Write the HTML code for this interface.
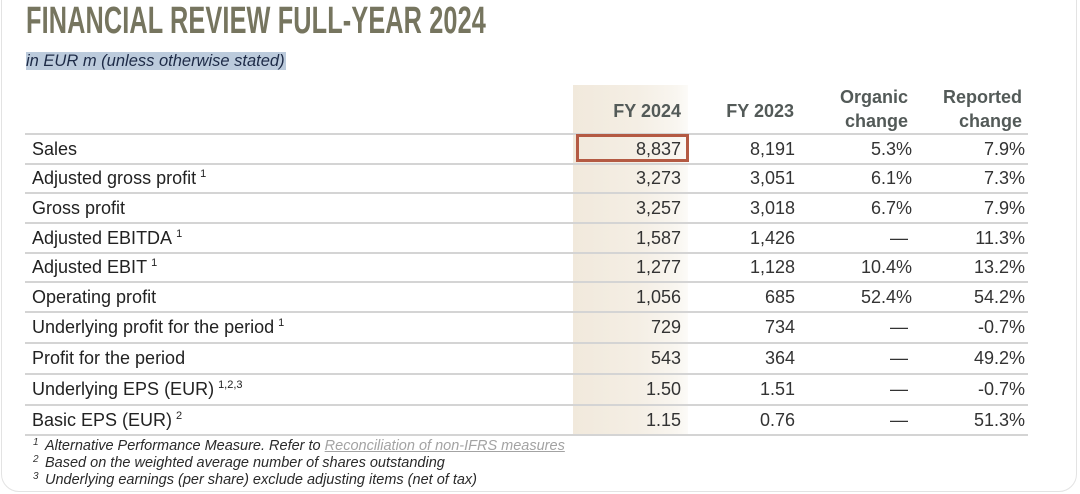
<!DOCTYPE html>
<html>
<head>
<meta charset="utf-8">
<style>
  html, body { margin:0; padding:0; }
  body { width:1080px; height:494px; position:relative; overflow:hidden; background:#fff;
         font-family:"Liberation Sans", Arial, sans-serif; }
  .abs { position:absolute; }
  .card { left:1px; top:-30px; width:1074px; height:520px; border:1.5px solid #e3e3e3; border-radius:18px; }
  .title { left:26px; top:2px; font-size:38px; line-height:38px; font-weight:bold; color:#76755f;
           transform:scaleX(0.665); transform-origin:0 0; white-space:nowrap; letter-spacing:0.2px; }
  .sub { left:26px; top:52px; height:18px; line-height:18px; font-size:16.5px; font-style:italic;
         color:#1e2b47; background:#bccbdc; white-space:nowrap; padding-right:1px; }
  .shade { left:573px; top:85px; width:115px; height:350px;
           background:linear-gradient(to right,#f1e9dc 0%,#f4eee4 55%,#f9f6f0 90%,#fcfbf8 100%); }
  .hdr { font-weight:bold; font-size:18px; color:#535a58; white-space:nowrap; text-align:right; line-height:24px; }
  .line { left:25px; width:1003px; height:1.6px; background:#d4d4d4; }
  .row { left:0; width:1080px; font-size:18px; }
  .row div { position:absolute; top:0; white-space:nowrap; }
  .lbl { left:32px; color:#222; }
  .c1 { right:399px; color:#333; text-align:right; }
  .c2 { right:285px; color:#333; text-align:right; }
  .c3 { right:168px; color:#333; text-align:right; }
  .c3d { right:172px; color:#333; text-align:right; }
  .c4 { right:55px; color:#333; text-align:right; }
  sup.s { font-size:11px; vertical-align:0; position:relative; top:-7px; margin-left:4px; line-height:0; }
  .box { left:576px; top:134px; width:107px; height:22px; border:3px solid #b45a43; }
  .fn { left:33px; font-size:14.5px; font-style:italic; color:#2a2a2a; white-space:nowrap; line-height:17px; }
  .fn .n { display:inline-block; width:12px; font-size:10px; position:relative; top:-5px; color:#333; }
  .lnk { color:#a3a3a3; text-decoration:underline; }
</style>
</head>
<body>
<div class="abs card"></div>

<div class="abs title">FINANCIAL REVIEW FULL-YEAR 2024</div>
<div class="abs sub">in EUR m (unless otherwise stated)</div>

<div class="abs shade"></div>

<div class="abs hdr" style="right:399px; top:99px;">FY 2024</div>
<div class="abs hdr" style="right:286px; top:99px;">FY 2023</div>
<div class="abs hdr" style="right:172px; top:85px;">Organic<br>change</div>
<div class="abs hdr" style="right:58px; top:85px;">Reported<br>change</div>

<div class="abs line" style="top:133px;"></div>
<div class="abs line" style="top:163px;"></div>
<div class="abs line" style="top:192px;"></div>
<div class="abs line" style="top:222px;"></div>
<div class="abs line" style="top:252px;"></div>
<div class="abs line" style="top:281px;"></div>
<div class="abs line" style="top:311px;"></div>
<div class="abs line" style="top:342px;"></div>
<div class="abs line" style="top:373px;"></div>
<div class="abs line" style="top:404px;"></div>
<div class="abs line" style="top:434px;"></div>

<div class="abs row" style="top:134px; height:30px; line-height:30px;">
  <div class="lbl">Sales</div><div class="c1">8,837</div><div class="c2">8,191</div><div class="c3">5.3%</div><div class="c4">7.9%</div>
</div>
<div class="abs row" style="top:164px; height:29px; line-height:29px;">
  <div class="lbl">Adjusted gross profit<sup class="s">1</sup></div><div class="c1">3,273</div><div class="c2">3,051</div><div class="c3">6.1%</div><div class="c4">7.3%</div>
</div>
<div class="abs row" style="top:193px; height:30px; line-height:30px;">
  <div class="lbl">Gross profit</div><div class="c1">3,257</div><div class="c2">3,018</div><div class="c3">6.7%</div><div class="c4">7.9%</div>
</div>
<div class="abs row" style="top:223px; height:30px; line-height:30px;">
  <div class="lbl">Adjusted EBITDA<sup class="s">1</sup></div><div class="c1">1,587</div><div class="c2">1,426</div><div class="c3d">—</div><div class="c4">11.3%</div>
</div>
<div class="abs row" style="top:253px; height:29px; line-height:29px;">
  <div class="lbl">Adjusted EBIT<sup class="s">1</sup></div><div class="c1">1,277</div><div class="c2">1,128</div><div class="c3">10.4%</div><div class="c4">13.2%</div>
</div>
<div class="abs row" style="top:282px; height:30px; line-height:30px;">
  <div class="lbl">Operating profit</div><div class="c1">1,056</div><div class="c2">685</div><div class="c3">52.4%</div><div class="c4">54.2%</div>
</div>
<div class="abs row" style="top:312px; height:31px; line-height:31px;">
  <div class="lbl">Underlying profit for the period<sup class="s">1</sup></div><div class="c1">729</div><div class="c2">734</div><div class="c3d">—</div><div class="c4">-0.7%</div>
</div>
<div class="abs row" style="top:343px; height:31px; line-height:31px;">
  <div class="lbl">Profit for the period</div><div class="c1">543</div><div class="c2">364</div><div class="c3d">—</div><div class="c4">49.2%</div>
</div>
<div class="abs row" style="top:374px; height:31px; line-height:31px;">
  <div class="lbl">Underlying EPS (EUR)<sup class="s">1,2,3</sup></div><div class="c1">1.50</div><div class="c2">1.51</div><div class="c3d">—</div><div class="c4">-0.7%</div>
</div>
<div class="abs row" style="top:405px; height:30px; line-height:30px;">
  <div class="lbl">Basic EPS (EUR)<sup class="s">2</sup></div><div class="c1">1.15</div><div class="c2">0.76</div><div class="c3d">—</div><div class="c4">51.3%</div>
</div>

<div class="abs box"></div>

<div class="abs fn" style="top:438px;"><span class="n">1</span>Alternative Performance Measure. Refer to <span class="lnk">Reconciliation of non-IFRS measures</span></div>
<div class="abs fn" style="top:455px;"><span class="n">2</span>Based on the weighted average number of shares outstanding</div>
<div class="abs fn" style="top:472px;"><span class="n">3</span>Underlying earnings (per share) exclude adjusting items (net of tax)</div>
</body>
</html>
